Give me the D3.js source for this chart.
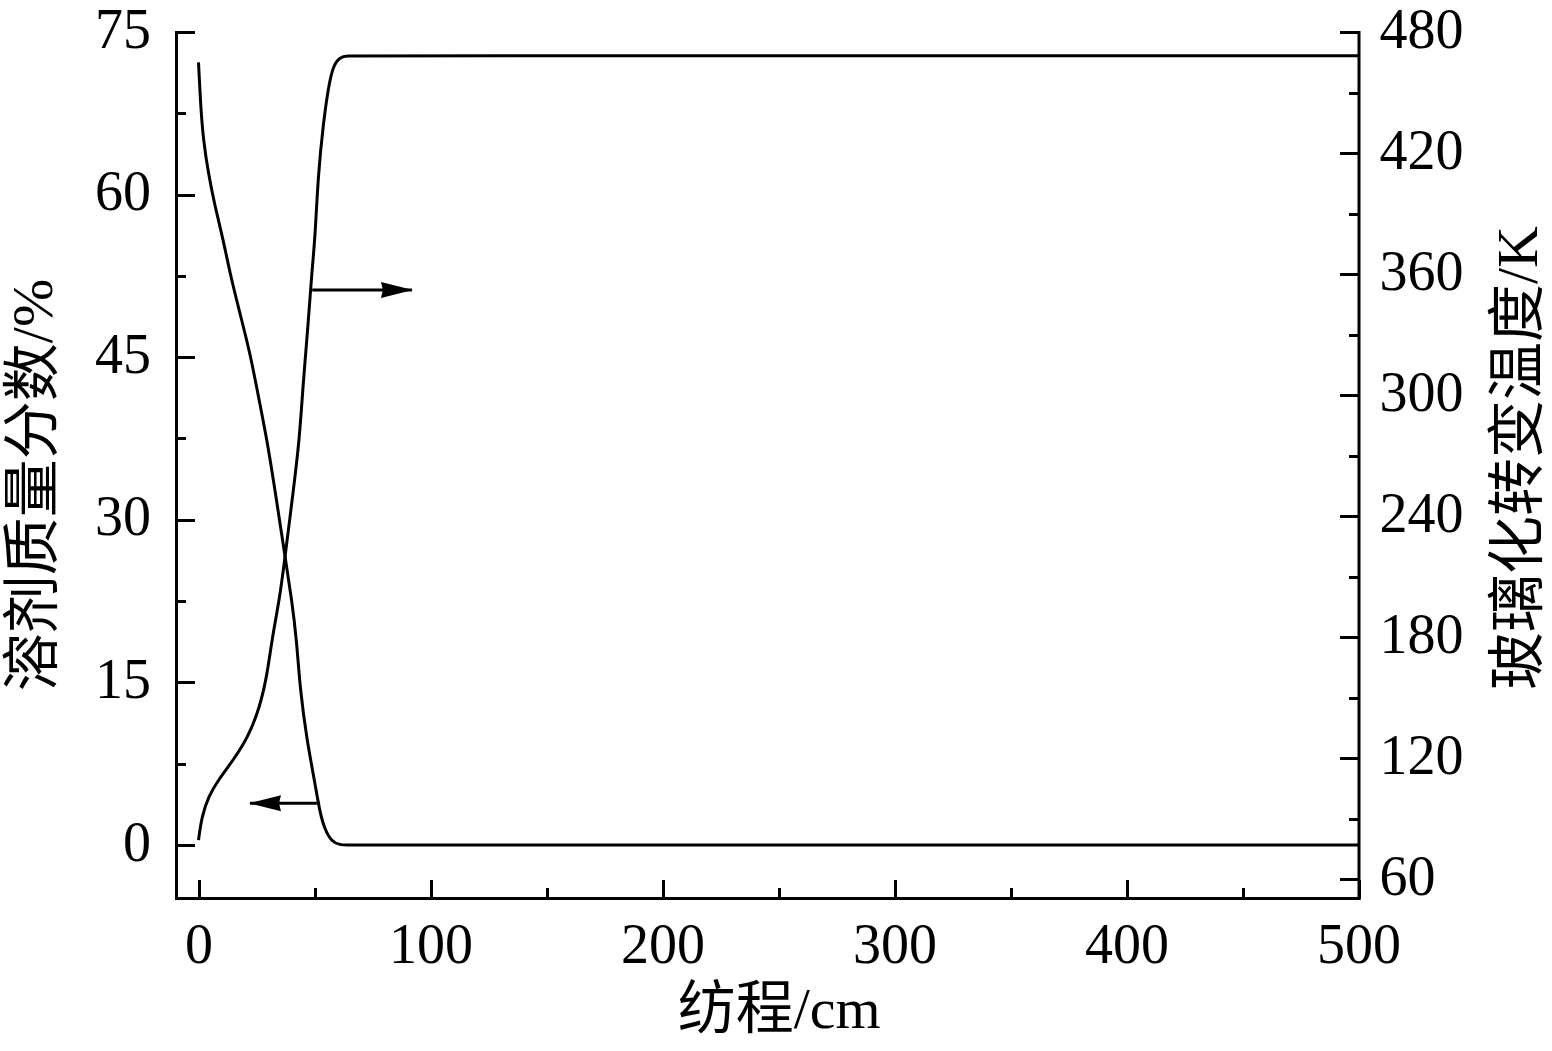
<!DOCTYPE html>
<html lang="zh">
<head>
<meta charset="UTF-8">
<title>纺程 - 溶剂质量分数 / 玻璃化转变温度</title>
<script src="https://d3js.org/d3.v7.min.js"></script>
<style>
  body { margin: 0; background: #fff; }
  svg { display: block; }
  .tick text, .label {
    font-family: "Liberation Serif", "Noto Sans CJK SC", serif;
    fill: #000;
  }
</style>
</head>
<body>
<svg width="1552" height="1051"></svg>
<script>
// 纺程 (cm) - 溶剂质量分数 (%)
const solventX = [0, 0.95, 2.1, 4.2, 7.1, 10.7, 13.6, 17.9, 22.2, 25.8, 29.5, 33.0, 37.3, 40.2, 42.3, 43.8, 46.7, 50.2, 52.4, 54.5, 57.4, 61, 64, 70, 500];
const solventY = [72.2, 68.1, 65.0, 62.0, 58.9, 55.8, 52.7, 49.0, 45.4, 41.4, 37.4, 32.7, 26.6, 22.6, 18.9, 14.3, 9.7, 5.7, 2.9, 1.4, 0.3, 0, 0, 0, 0];

// 纺程 (cm) - 玻璃化转变温度 (K)
const tgX = [0, 1.4, 4.2, 8.5, 15.0, 21.5, 26.5, 29.7, 31.6, 35.1, 37.3, 40.9, 43.5, 45.2, 47.3, 48.8, 50.2, 51.6, 53.8, 56.0, 58.1, 61.0, 64.0, 70, 500];
const tgY = [79.3, 90.9, 100.8, 109.1, 119.0, 130.6, 145.4, 162.0, 178.5, 200.0, 219.7, 252.9, 277.7, 307.4, 335.6, 360.4, 376.9, 409.9, 434.7, 452.9, 463.5, 467.6, 468.2, 468.2, 468.2];

// 刻度
const xTicks = [0, 100, 200, 300, 400, 500];
const xMinor = [50, 150, 250, 350, 450];
const leftTicks = [0, 15, 30, 45, 60, 75];
const leftMinor = [7.5, 22.5, 37.5, 52.5, 67.5];
const rightTicks = [60, 120, 180, 240, 300, 360, 420, 480];
const rightMinor = [90, 150, 210, 270, 330, 390, 450];

// 箭头 (数据坐标, 左轴)
const arrowRight = { x1: 49.0, x2: 92, y: 51.2 };
const arrowLeft = { x1: 52.4, x2: 22.2, y: 3.85 };

const xLabel = "纺程/cm";
const leftLabel = "溶剂质量分数/%";
const rightLabel = "玻璃化转变温度/K";

const svg = d3.select("svg");
const mLeft = 176, mRight = 1358.5, mTop = 32, mBottom = 898;
const sw = 3;
const tickFont = 56;
const titleFont = 58;

const x = d3.scaleLinear().domain([-9.7, 500]).range([mLeft, mRight]);
const yL = d3.scaleLinear().domain([-4.9, 75]).range([mBottom, mTop]);
const yR = d3.scaleLinear().domain([50.6, 480]).range([mBottom, mTop]);

function styleAxis(g) {
    g.select(".domain").attr("stroke-width", sw).attr("stroke-linecap", "square");
    g.selectAll(".tick line").attr("stroke-width", sw).attr("shape-rendering", "crispEdges");
    g.selectAll(".tick text").style("font-size", tickFont + "px");
}

// 次刻度
svg.append("g").attr("transform", `translate(0,${mBottom})`)
    .call(d3.axisBottom(x).tickValues(xMinor).tickSize(-10).tickFormat(""))
    .call(g => g.select(".domain").remove())
    .call(styleAxis);
svg.append("g").attr("transform", `translate(${mLeft},0)`)
    .call(d3.axisLeft(yL).tickValues(leftMinor).tickSize(-10).tickFormat(""))
    .call(g => g.select(".domain").remove())
    .call(styleAxis);
svg.append("g").attr("transform", `translate(${mRight},0)`)
    .call(d3.axisRight(yR).tickValues(rightMinor).tickSize(-10).tickFormat(""))
    .call(g => g.select(".domain").remove())
    .call(styleAxis);

// 主刻度
svg.append("g").attr("transform", `translate(0,${mBottom})`)
    .call(d3.axisBottom(x).tickValues(xTicks).tickSize(-18).tickSizeOuter(0))
    .call(styleAxis)
    .call(g => g.selectAll(".tick text").attr("dy", "0.71em").attr("y", 25));
svg.append("g").attr("transform", `translate(${mLeft},0)`)
    .call(d3.axisLeft(yL).tickValues(leftTicks).tickSize(-19).tickSizeOuter(0).tickPadding(25))
    .call(styleAxis)
    .call(g => g.selectAll(".tick text").attr("dy", "0.27em"));
svg.append("g").attr("transform", `translate(${mRight},0)`)
    .call(d3.axisRight(yR).tickValues(rightTicks).tickSize(-19).tickSizeOuter(0).tickPadding(21))
    .call(styleAxis)
    .call(g => g.selectAll(".tick text").attr("dy", "0.27em"));

// 曲线
const lineL = d3.line().x(d => x(d[0])).y(d => yL(d[1])).curve(d3.curveBasis);
const lineR = d3.line().x(d => x(d[0])).y(d => yR(d[1])).curve(d3.curveBasis);

svg.append("path")
    .datum(d3.zip(solventX, solventY))
    .attr("d", lineL)
    .attr("fill", "none").attr("stroke", "#000").attr("stroke-width", sw);

svg.append("path")
    .datum(d3.zip(tgX, tgY))
    .attr("d", lineR)
    .attr("fill", "none").attr("stroke", "#000").attr("stroke-width", sw);

// 箭头
svg.append("defs").append("marker")
    .attr("id", "arrow")
    .attr("markerUnits", "userSpaceOnUse")
    .attr("viewBox", "0 0 32 18")
    .attr("markerWidth", 32).attr("markerHeight", 18)
    .attr("refX", 31).attr("refY", 9)
    .attr("orient", "auto")
    .append("path")
    .attr("d", "M0,1 L32,9 L0,17 L2,9 Z")
    .attr("fill", "#000");

[arrowRight, arrowLeft].forEach(a => {
    svg.append("line")
        .attr("x1", x(a.x1)).attr("x2", x(a.x2))
        .attr("y1", yL(a.y)).attr("y2", yL(a.y))
        .attr("stroke", "#000").attr("stroke-width", sw)
        .attr("marker-end", "url(#arrow)");
});

// 轴标题
svg.append("text").attr("class", "label")
    .attr("x", (mLeft + mRight) / 2 + 12).attr("y", 1028)
    .attr("text-anchor", "middle")
    .style("font-size", titleFont + "px")
    .text(xLabel);

svg.append("text").attr("class", "label")
    .attr("transform", `translate(32,485) rotate(-90)`)
    .attr("text-anchor", "middle")
    .attr("dominant-baseline", "central")
    .style("font-size", titleFont + "px")
    .text(leftLabel);

svg.append("text").attr("class", "label")
    .attr("transform", `translate(1517,458) rotate(-90)`)
    .attr("text-anchor", "middle")
    .attr("dominant-baseline", "central")
    .style("font-size", titleFont + "px")
    .text(rightLabel);
</script>
</body>
</html>
